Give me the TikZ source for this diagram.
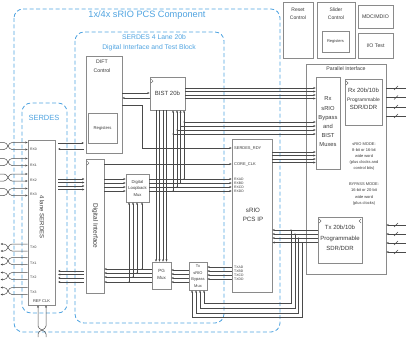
\documentclass[tikz,border=0pt]{standalone}
\usepackage{fontspec}
\setmainfont{Liberation Sans}
\usetikzlibrary{arrows.meta}
\definecolor{dblue}{HTML}{4FA3E0}
\definecolor{bx}{HTML}{8A8A8A}
\definecolor{ln}{HTML}{4A4A4A}
\definecolor{tc}{HTML}{3A3A3A}
\begin{document}
\begin{tikzpicture}[x=1pt,y=-1pt,
  box/.style={draw=bx,line width=0.6pt,fill=white,inner sep=0pt},
  dbox/.style={draw=dblue,line width=0.8pt,dash pattern=on 4pt off 2.5pt,rounded corners=9pt},
  lbl/.style={text=tc,align=center,inner sep=0pt},
  sm/.style={text=tc,inner sep=0pt,font=\fontsize{3.4}{4}\selectfont},
  blu/.style={text=dblue,inner sep=0pt},
  wire/.style={draw=ln,line width=0.5pt},
  arr/.style={wire,-{Stealth[length=2.4pt,width=2pt]}},
  clk/.style={draw=ln,line width=0.35pt},
]
\useasboundingbox (0,0) rectangle (406,337);
% dashed groups
\draw[dbox] (14,9) rectangle (280,332);
\draw[dbox] (75,32) rectangle (224,323);
\draw[dbox] (22,103) rectangle (67,313);
\node[blu,font=\fontsize{9.2}{10}\selectfont] (t1) at (147,15.5) {1x/4x sRIO PCS Component};
\node[blu,font=\fontsize{6.8}{8}\selectfont] (t2) at (154,37) {SERDES 4 Lane 20b};
\node[blu,font=\fontsize{6.8}{8}\selectfont] (t3) at (149,47.5) {Digital Interface and Test Block};
\node[blu,font=\fontsize{7.5}{8}\selectfont] (t4) at (44,118) {SERDES};
% top right boxes
\node[box,minimum width=30pt,minimum height=56pt] (reset) at (298,30) {};
\node[lbl,font=\fontsize{5}{8}\selectfont] at (298,14) {Reset\\Control};
\node[box,minimum width=38pt,minimum height=56pt] (slider) at (336,30) {};
\node[lbl,font=\fontsize{5}{8}\selectfont] at (336,14) {Slider\\Control};
\node[box,minimum width=27pt,minimum height=21pt,font=\fontsize{4}{5}\selectfont,text=tc] (sregs) at (335.5,41.5) {Registers};
\node[box,minimum width=35pt,minimum height=23pt,font=\fontsize{5.2}{6}\selectfont,text=tc] (mdc) at (375.5,16.5) {MDC/MDIO};
\node[box,minimum width=35pt,minimum height=25pt,font=\fontsize{5.2}{6}\selectfont,text=tc] (iot) at (375.5,45.5) {I/O Test};
% parallel interface
\node[box,minimum width=80pt,minimum height=210pt] (par) at (346,169) {};
\node[lbl,font=\fontsize{5.2}{6}\selectfont] at (346,68.5) {Parallel Interface};
\node[box,minimum width=24pt,minimum height=92pt] (rxmux) at (328,123) {};
\node[lbl,font=\fontsize{5.8}{9.2}\selectfont] at (328,122) {Rx\\sRIO\\Bypass\\and\\BIST\\Muxes};
\node[box,minimum width=37pt,minimum height=46pt] (rx20) at (363.5,102) {};
\node[lbl,font=\fontsize{6}{8.2}\selectfont] at (363.5,99) {Rx 20b/10b\\{\fontsize{5}{8.2}\selectfont Programmable}\\SDR/DDR};
\node[box,minimum width=44pt,minimum height=46pt] (tx20) at (340,240) {};
\node[lbl,font=\fontsize{6}{10.5}\selectfont] at (340,238) {Tx 20b/10b\\Programmable\\SDR/DDR};
\node[lbl,font=\fontsize{4}{6.2}\selectfont] at (364,156.5) {sRIO MODE:\\8-bit or 16-bit\\wide word\\(plus clocks and\\control bits)};
\node[lbl,font=\fontsize{4}{6.2}\selectfont] at (364,194) {BYPASS MODE:\\16-bit or 20-bit\\wide word\\(plus clocks)};
\draw[clk] (346,81) -- (348,83) -- (346,85);
\draw[clk] (319,219) -- (321,221) -- (319,223);
\draw[clk] (361,219) -- (359,221) -- (361,223);
% sRIO PCS IP
\node[box,minimum width=40pt,minimum height=153pt] (srio) at (252,215.5) {};
\node[lbl,font=\fontsize{6.2}{9}\selectfont] at (253,214.5) {sRIO\\PCS IP};
\node[sm,anchor=west,font=\fontsize{4}{5}\selectfont] at (234,148) {SERDES\_RDY};
\node[sm,anchor=west,font=\fontsize{4}{5}\selectfont] at (234,164) {CORE\_CLK};
\foreach \y/\t in {179/RXAD,183/RXBD,187/RXCD,191/RXDD,267/TXAD,271/TXBD,275/TXCD,279/TXDD}
  \node[sm,anchor=west] at (234,\y) {\t};
% DIFT
\node[box,minimum width=36pt,minimum height=97pt] (dift) at (104,104.5) {};
\node[lbl,font=\fontsize{5.2}{9}\selectfont] at (102,66) {DIFT\\Control};
\node[box,minimum width=29pt,minimum height=30pt,font=\fontsize{4.2}{5}\selectfont,text=tc] (dregs) at (102.5,128) {Registers};
\node[box,minimum width=35pt,minimum height=33pt,font=\fontsize{6}{7}\selectfont,text=tc] (bist) at (167.5,93.5) {BIST 20b};
\draw[clk] (151,79) -- (153,81) -- (151,83);
\node[box,minimum width=18pt,minimum height=134pt] (digi) at (95,226) {};
\node[lbl,font=\fontsize{6.5}{7}\selectfont,rotate=-90] at (95,226) {Digital Interface};
\draw[clk] (87,161) -- (89,163) -- (87,165);
\node[box,minimum width=23pt,minimum height=28pt] (lbmux) at (137.5,188) {};
\node[lbl,font=\fontsize{4.2}{6.5}\selectfont] at (137.5,188) {Digital\\Loopback\\Mux};
\node[box,minimum width=19pt,minimum height=27pt] (pgmux) at (161.5,275.5) {};
\node[lbl,font=\fontsize{4.5}{6.7}\selectfont] at (161.5,274.5) {PG\\Mux};
\node[box,minimum width=18pt,minimum height=28pt] (txmux) at (198,276) {};
\node[lbl,font=\fontsize{4}{6.5}\selectfont] at (198,276) {Tx\\sRIO\\Bypass\\Mux};
% SERDES
\node[box,minimum width=27pt,minimum height=165pt] (serdes) at (41.5,222.5) {};
\node[lbl,font=\fontsize{6}{7}\selectfont,rotate=-90] at (42,217) {4 lane SERDES};
\foreach \y/\t in {149/RX0,165/RX1,180/RX2,194/RX3,247/TX0,263/TX1,277/TX2,292/TX3}
  \node[sm,anchor=west] at (30,\y) {\t};
\node[sm,font=\fontsize{4}{5}\selectfont] at (41.5,301) {REF CLK};
% RX pairs
\foreach \c in {146,162,177.5,192}{
  \draw[arr] (0,\c-3.5) -- (4,\c-3.5) .. controls (8,\c-3.5) and (8,\c+3.5) .. (12,\c+3.5) -- (serdes.west |- 0,\c+3.5);
  \draw[arr] (0,\c+3.5) -- (4,\c+3.5) .. controls (8,\c+3.5) and (8,\c-3.5) .. (12,\c-3.5) -- (serdes.west |- 0,\c-3.5);
}
% TX pairs
\foreach \c in {247.5,261,276,291}{
  \draw[arr] (serdes.west |- 0,\c-3.5) -- (12,\c-3.5) .. controls (8,\c-3.5) and (8,\c+3.5) .. (4,\c+3.5) -- (0.5,\c+3.5);
  \draw[arr] (serdes.west |- 0,\c+3.5) -- (12,\c+3.5) .. controls (8,\c+3.5) and (8,\c-3.5) .. (4,\c-3.5) -- (0.5,\c-3.5);
}
% REF CLK pair
\draw[arr] (38,337) -- (38,334) .. controls (38,330) and (46,330) .. (46,326) -- (serdes.south -| 46,0);
\draw[arr] (46,337) -- (46,334) .. controls (46,330) and (38,330) .. (38,326) -- (serdes.south -| 38,0);
% SERDES <-> DIFT
\draw[arr] (58,143) -- (84,143);
\draw[arr] (84,149) -- (58,149);
% SERDES -> Digital Interface
\foreach \y in {179,182.5,186,189.5} \draw[arr] (58,\y) -- (84.5,\y);
% Digital Interface -> SERDES
\foreach \y in {271,274.5,278,282} \draw[arr] (84,\y) -- (58,\y);
% DIFT <-> BIST
\draw[arr] (dift.east |- 0,93) -- (bist.west |- 0,93);
\draw[arr] (bist.west |- 0,98) -- (dift.east |- 0,98);
% SERDES_RDY
\draw[arr] (dift.east |- 0,105) -- (142,105) -- (142,148) -- (srio.west |- 0,148);
% CORE_CLK
\draw[arr] (digi.east |- 0,164) -- (srio.west |- 0,164);
% Digital Interface -> Loopback mux
\foreach \y in {179,183,187,191} \draw[arr] (digi.east |- 0,\y) -- (lbmux.west |- 0,\y);
% Loopback -> sRIO, branches
\foreach \y/\x/\h in {179/184/122,183/180.5/126,187/177/130,191/173/134}{
  \draw[arr] (lbmux.east |- 0,\y) -- (srio.west |- 0,\y);
  \fill[ln] (\x,\y) circle (0.7pt);
  \draw[arr] (\x,\y) -- (bist.south -| \x,0);
  \fill[ln] (\x,\h) circle (0.6pt);
  \draw[arr] (\x,\h) -- (rxmux.west |- 0,\h);
}
% BIST -> Rx mux
\foreach \y in {88,91.5,95,98.5} \draw[arr] (bist.east |- 0,\y) -- (rxmux.west |- 0,\y);
% sRIO -> Rx mux
\foreach \y in {152,155.5,159,162.5} \draw[arr] (srio.east |- 0,\y) -- (rxmux.west |- 0,\y);
% BIST -> PG mux
\foreach \x in {156,159.5,163,166.5} \draw[arr] (bist.south -| \x,0) -- (pgmux.north -| \x,0);
% Rx outputs
\foreach \y in {88,97.5,107,116}{
  \draw[wire] (par.east |- 0,\y) -- (406,\y);
  \draw[wire] (394,\y+2) -- (398,\y-2);
}
% Tx inputs
\foreach \y in {225,234,243,252}{
  \draw[arr] (406,\y) -- (par.east |- 0,\y);
  \draw[wire] (394,\y+2) -- (398,\y-2);
}
% Tx20 -> sRIO and branches to Tx bypass mux
\foreach \y/\x/\h/\u in {230/291/303/204,234/295/308/200,238/298.5/313/196,242.5/302/317/192}{
  \draw[arr] (tx20.west |- 0,\y) -- (srio.east |- 0,\y);
  \fill[ln] (\x,\y) circle (0.7pt);
  \draw[arr] (\x,\y) -- (\x,\h) -- (\u,\h) -- (txmux.south -| \u,0);
}
% sRIO -> Tx bypass mux
\foreach \y in {267,271,275,279} \draw[arr] (srio.west |- 0,\y) -- (txmux.east |- 0,\y);
% Tx bypass -> PG mux
\foreach \y in {270,274,278,282} \draw[arr] (txmux.west |- 0,\y) -- (pgmux.east |- 0,\y);
% PG mux -> Digital Interface, branches to loopback
\foreach \y/\x in {269/142,273/137,277/133,282/129}{
  \draw[arr] (pgmux.west |- 0,\y) -- (digi.east |- 0,\y);
  \fill[ln] (\x,\y) circle (0.7pt);
  \draw[arr] (\x,\y) -- (lbmux.south -| \x,0);
}
\end{tikzpicture}
\end{document}
